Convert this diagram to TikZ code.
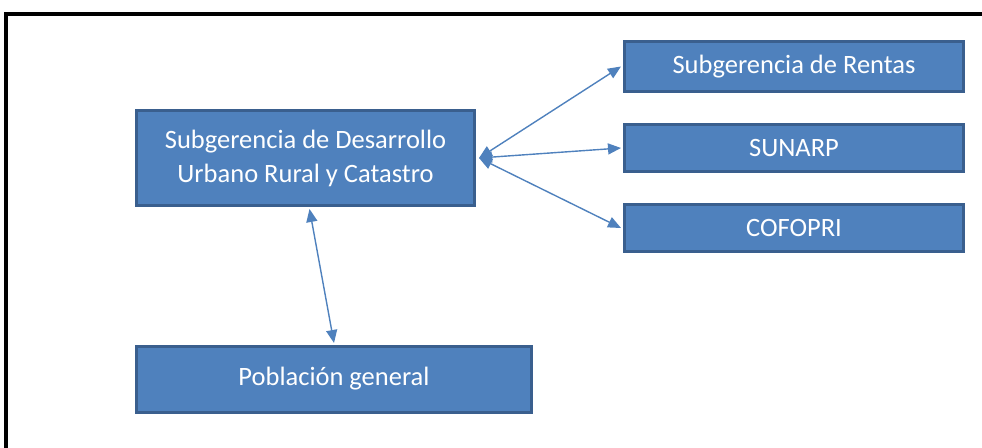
\documentclass[tikz,border=0pt]{standalone}
\usepackage{fontspec}
\setmainfont{Carlito}
\usetikzlibrary{arrows.meta}
\definecolor{boxfill}{HTML}{4F81BD}
\definecolor{boxline}{HTML}{3A5F8E}
\begin{document}
\begin{tikzpicture}
    [
        x=1pt,y=1pt,
        unit/.style={draw=boxline,line width=3pt,fill=boxfill,text=white,
            inner sep=0pt,align=center,font=\fontsize{26.5}{34}\selectfont},
        link/.style={draw=boxfill,line width=1.4pt,
            {Triangle[length=13pt,width=11pt]}-{Triangle[length=13pt,width=11pt]}},
    ]
    \useasboundingbox (0,0) rectangle (982,447);
    % The frame
    \draw[line width=4pt] (6,-20) -- (6,433) -- (1000,433);
    % The boxes
    \node[unit,minimum width=338,minimum height=95] (main) at (305.5,289)
    {\raisebox{2pt}{Subgerencia de Desarrollo}\\\raisebox{2pt}{Urbano Rural y Catastro}};
    \node[unit,minimum width=339,minimum height=50] (rentas) at (794,380.5)
    {Subgerencia de Rentas};
    \node[unit,minimum width=339,minimum height=47] (sunarp) at (794,299)
    {\raisebox{-2pt}{SUNARP}};
    \node[unit,minimum width=339,minimum height=47] (cofopri) at (794,219)
    {\raisebox{-2pt}{COFOPRI}};
    \node[unit,minimum width=395,minimum height=66] (poblacion) at (334,67.5)
    {\raisebox{6pt}{Población general}};
    % The links
    \foreach \t in {rentas,sunarp,cofopri}
    \draw[link] ([xshift=3pt]main.east) -- ([xshift=-2pt]\t.west);
    \draw[link] ([xshift=4pt,yshift=-2pt]main.south) -- ([yshift=2pt]poblacion.north);
\end{tikzpicture}
\end{document}
